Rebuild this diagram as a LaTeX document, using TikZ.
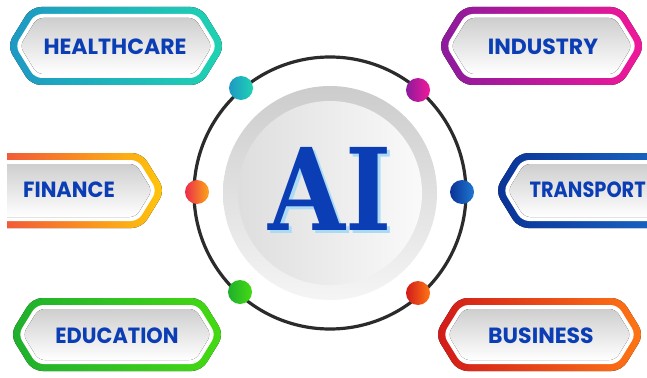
\documentclass[tikz,border=0pt]{standalone}
\usepackage{fontspec}
\usepackage{tikz}
\usetikzlibrary{positioning}
\newfontfamily\badgefont{Poppins}
\newfontfamily\aifont{DejaVu Serif}

\definecolor{aiblue}{HTML}{0B3DB5}
\definecolor{aishade}{HTML}{A9DBF7}
\definecolor{ringgray}{HTML}{2B2B2B}
\definecolor{hcL}{HTML}{1E98C4}\definecolor{hcR}{HTML}{1FD3B2}
\definecolor{inL}{HTML}{8B1A9C}\definecolor{inR}{HTML}{F2189A}
\definecolor{fiL}{HTML}{EC2A4C}\definecolor{fiR}{HTML}{FFC70A}
\definecolor{trL}{HTML}{0A3396}\definecolor{trR}{HTML}{1E78D2}
\definecolor{edL}{HTML}{1FAF2E}\definecolor{edR}{HTML}{45DA12}
\definecolor{buL}{HTML}{D11A1A}\definecolor{buR}{HTML}{FF7614}

% long hexagon, centre (#1,#2), half width #3, half height #4
\newcommand{\hexa}[4]{({#1-#3},#2) -- ({#1-#3+0.615*#4},{#2-#4}) -- ({#1+#3-0.615*#4},{#2-#4}) -- ({#1+#3},#2) -- ({#1+#3-0.615*#4},{#2+#4}) -- ({#1-#3+0.615*#4},{#2+#4}) -- cycle}

% coloured rim, white gap, grey face
\newcommand{\badge}[5]{%
  \fill[rounded corners=10, left color=#5L, right color=#5R] \hexa{#1}{#2}{#3}{#4};
  \pgfmathsetmacro{\wb}{#3-8.2}\pgfmathsetmacro{\hb}{#4-7}
  \fill[white, rounded corners=7] \hexa{#1}{#2}{\wb}{\hb};
  \pgfmathsetmacro{\wc}{#3-12.9}\pgfmathsetmacro{\hc}{#4-11}
  \fill[rounded corners=6, top color=black!19, bottom color=white] \hexa{#1}{#2}{\wc}{\hc};
}

% big letters with a pale offset copy behind them
\newcommand{\shadowed}[1]{\makebox[0pt][l]{\hspace{4pt}\raisebox{-3pt}{\color{aishade}#1}}#1}

\tikzset{
  label text/.style={text=aiblue, font=\badgefont\bfseries\fontsize{22}{22}\selectfont, inner sep=0},
  dot/.style={circle, minimum size=24, inner sep=0},
}

\begin{document}
\begin{tikzpicture}[x=1pt, y=-1pt]
    \fill[white] (0,0) rectangle (647,377);
    \useasboundingbox (0,0) rectangle (647,377);

    %% centre
    \node[circle, draw=ringgray, line width=3.2, minimum size=272] (ring) at (330,193) {};
    \node[circle, minimum size=214, top color=black!20, bottom color=black!4] (disc) at (ring.center) {};
    \node[circle, minimum size=184, left color=black!13, right color=black!2] (face) at (ring.center) {};
    \node[text=aiblue, font=\aifont\bfseries\fontsize{114}{114}\selectfont, inner sep=0] (ai) at (330,190) {\scalebox{0.87}[1]{\shadowed{AI}}};

    %% dots on the ring
    \node[dot, left color=hcL, right color=hcR] (dotHealth) at (241,88) {};
    \node[dot, left color=inL, right color=inR] (dotIndustry) at (418,90) {};
    \node[dot, left color=fiL, right color=fiR!80!fiL] (dotFinance) at (197,192) {};
    \node[dot, left color=trL, right color=trR] (dotTransport) at (462,192) {};
    \node[dot, left color=edL, right color=edR] (dotEducation) at (240,292) {};
    \node[dot, left color=buL, right color=buR] (dotBusiness) at (418,293) {};

    %% badges
    \badge{116}{46}{109}{39}{hc}
    \badge{541.5}{46}{103.5}{39}{in}
    \begin{scope}
        \clip (7,0) rectangle (647,377);
        \badge{50}{190.5}{115}{37.5}{fi}
    \end{scope}
    \badge{610}{190.5}{115}{37.5}{tr}
    \badge{117}{334.5}{107}{36.5}{ed}
    \badge{539.5}{334.5}{104.5}{36.5}{bu}

    \node[label text] (healthcare) at (115,47) {HEALTHCARE};
    \node[label text] (industry) at (543,47) {INDUSTRY};
    \node[label text] (finance) at (69,190) {\scalebox{0.95}[1]{FINANCE}};
    \node[label text, anchor=east] (transport) at (646,190) {\scalebox{0.88}[1]{TRANSPORT}};
    \node[label text] (education) at (117,336) {\scalebox{0.95}[1]{EDUCATION}};
    \node[label text] (business) at (541,336) {BUSINESS};

\end{tikzpicture}
\end{document}
